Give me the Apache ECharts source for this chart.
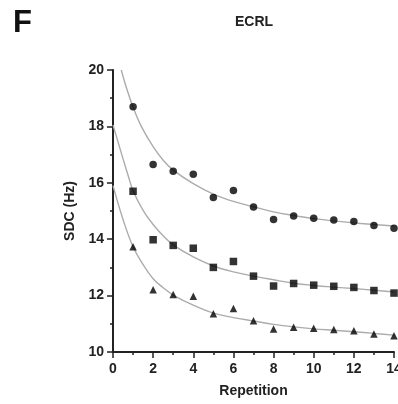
<!DOCTYPE html>
<html>
<head>
<meta charset="utf-8">
<script src="https://cdn.jsdelivr.net/npm/echarts@6/dist/echarts.min.js"></script>
<style>
html,body{margin:0;padding:0;background:#fff;}
#c{width:398px;height:404px;}
</style>
</head>
<body>
<div id="c"></div>
<script>
// Data
var repetitions = [1,2,3,4,5,6,7,8,9,10,11,12,13,14];
var circleValues = [18.70,16.65,16.41,16.30,15.48,15.73,15.14,14.70,14.82,14.74,14.68,14.63,14.49,14.39];
var squareValues = [15.70,13.98,13.78,13.68,13.00,13.21,12.69,12.34,12.43,12.37,12.33,12.29,12.18,12.09];
var triangleValues = [13.73,12.21,12.04,11.98,11.36,11.54,11.11,10.82,10.88,10.84,10.80,10.75,10.64,10.58];

// Fitted curves
var circleFitX = [0.41,0.7,1,1.41,2,2.5,3,4,5,6,7,8,9,10,11,12,13,14];
var circleFitY = [20.0,19.3,18.68,18.0,17.28,16.8,16.45,15.97,15.6,15.34,15.15,14.97,14.84,14.73,14.65,14.58,14.52,14.47];
var squareFitX = [0,0.25,0.5,0.75,1,1.5,2,2.5,3,4,5,6,7,8,9,10,11,12,13,14];
var squareFitY = [18.05,17.45,16.85,16.27,15.72,15.02,14.52,14.12,13.8,13.37,13.05,12.84,12.69,12.56,12.44,12.36,12.30,12.25,12.19,12.13];
var triangleFitX = [0,0.5,1,1.5,2,2.5,3,4,5,6,7,8,9,10,11,12,13,14];
var triangleFitY = [15.9,14.7,13.73,13.1,12.6,12.28,12.02,11.66,11.38,11.22,11.10,10.98,10.89,10.82,10.77,10.72,10.66,10.60];

var xTicks = [0,2,4,6,8,10,12,14];
var yTicks = [10,12,14,16,18,20];

function pairs(xs, ys){ return xs.map(function(x,i){ return [x, ys[i]]; }); }

var FONT = 'Liberation Sans, Arial, sans-serif';
var chart = echarts.init(document.getElementById('c'), null, {renderer:'canvas'});

var axisCommon = {
  axisLine:{show:true, onZero:false, lineStyle:{color:'#222', width:2}},
  axisTick:{show:true, length:6, lineStyle:{color:'#222', width:1.5}},
  minorTick:{show:true, splitNumber:2, length:3, lineStyle:{color:'#222', width:1.5}},
  splitLine:{show:false},
  axisLabel:{color:'#222', fontFamily:FONT, fontWeight:'bold', fontSize:14, margin:5},
  nameTextStyle:{color:'#222', fontFamily:FONT, fontWeight:'bold', fontSize:14}
};

var fitStyle = {type:'line', smooth:0.4, showSymbol:false, symbol:'none',
  lineStyle:{color:'#acacac', width:1.4}, z:1, silent:true, clip:true};

chart.setOption({
  animation:false,
  backgroundColor:'#fff',
  graphic:[
    {type:'text', left:13, top:8, style:{text:'F', fontFamily:FONT, fontWeight:'bold', fontSize:31, fill:'#111'}},
    {type:'text', x:254, y:22, style:{text:'ECRL', fontFamily:FONT, fontWeight:'bold', fontSize:14, fill:'#222', align:'center', verticalAlign:'middle'}}
  ],
  grid:{left:113, top:70, right:4, bottom:52, containLabel:false, outerBoundsMode:'none'},
  xAxis: Object.assign({}, axisCommon, {
    type:'value', min:xTicks[0], max:xTicks[xTicks.length-1], interval:2,
    name:'Repetition', nameLocation:'middle', nameGap:32,
    axisLabel:Object.assign({}, axisCommon.axisLabel, {margin:10, showMaxLabel:true, hideOverlap:false})
  }),
  yAxis: Object.assign({}, axisCommon, {
    type:'value', min:yTicks[0], max:yTicks[yTicks.length-1], interval:2,
    name:'SDC (Hz)', nameLocation:'middle', nameGap:27, nameRotate:90,
    axisLabel:Object.assign({}, axisCommon.axisLabel, {margin:9})
  }),
  series:[
    Object.assign({}, fitStyle, {data:pairs(circleFitX, circleFitY)}),
    Object.assign({}, fitStyle, {data:pairs(squareFitX, squareFitY)}),
    Object.assign({}, fitStyle, {data:pairs(triangleFitX, triangleFitY)}),
    {type:'scatter', symbol:'circle', symbolSize:7.5, itemStyle:{color:'#000'}, z:3, data:pairs(repetitions, circleValues)},
    {type:'scatter', symbol:'rect', symbolSize:7.5, itemStyle:{color:'#000'}, z:3, data:pairs(repetitions, squareValues)},
    {type:'scatter', symbol:'triangle', symbolSize:7.5, itemStyle:{color:'#000'}, z:3, data:pairs(repetitions, triangleValues)}
  ]
});
</script>
</body>
</html>
